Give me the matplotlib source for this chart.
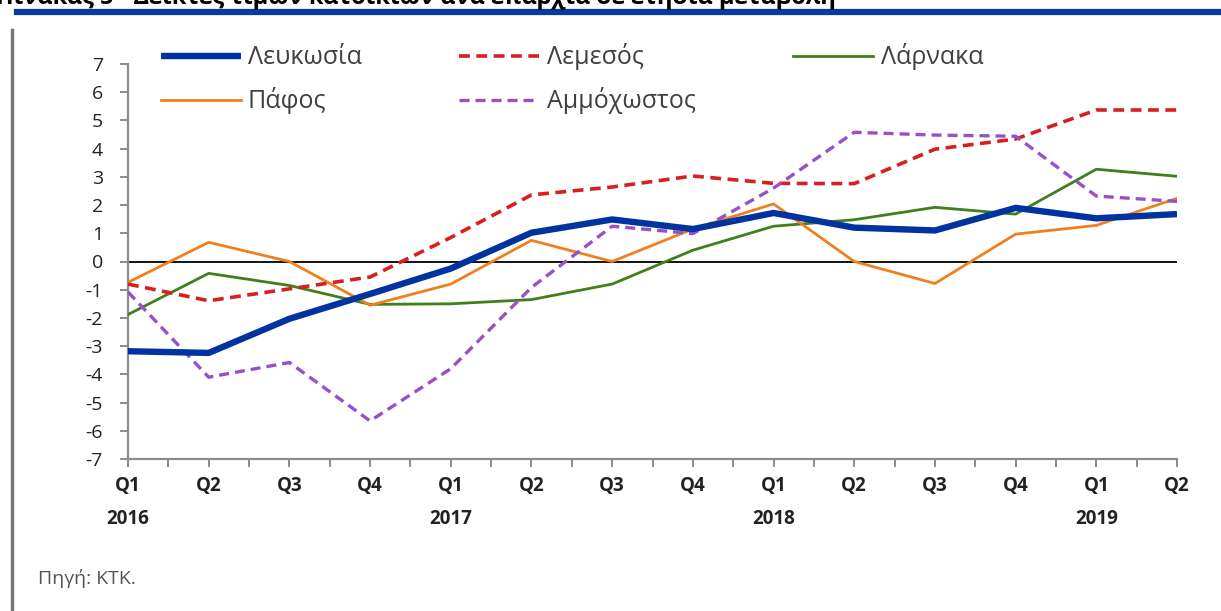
import matplotlib
matplotlib.use("Agg")
import matplotlib.pyplot as plt
from matplotlib.lines import Line2D
import numpy as np

plt.rcParams['font.family'] = ['Open Sans', 'DejaVu Sans']

quarters = ["Q1", "Q2", "Q3", "Q4", "Q1", "Q2", "Q3", "Q4", "Q1", "Q2", "Q3", "Q4", "Q1", "Q2"]
years = ["2016", "", "", "", "2017", "", "", "", "2018", "", "", "", "2019", ""]

lefkosia = [-3.18, -3.24, -2.03, -1.15, -0.25, 1.02, 1.49, 1.15, 1.72, 1.2, 1.1, 1.9, 1.53, 1.68]
lemesos = [-0.8, -1.39, -0.97, -0.55, 0.85, 2.36, 2.64, 3.03, 2.77, 2.76, 3.98, 4.34, 5.37, 5.37]
larnaka = [-1.88, -0.42, -0.85, -1.52, -1.5, -1.35, -0.8, 0.4, 1.25, 1.48, 1.92, 1.68, 3.27, 3.02]
pafos = [-0.74, 0.68, 0.0, -1.55, -0.8, 0.75, 0.0, 1.15, 2.04, 0.0, -0.78, 0.97, 1.28, 2.24]
ammochostos = [-1.08, -4.1, -3.58, -5.65, -3.8, -0.92, 1.25, 0.99, 2.6, 4.58, 4.48, 4.44, 2.32, 2.13]

series_names = ["Λευκωσία", "Λεμεσός", "Λάρνακα", "Πάφος", "Αμμόχωστος"]

fig = plt.figure(figsize=(12.21, 6.11), dpi=100)
ax = fig.add_axes([128 / 1221, 1 - 459 / 611, (1177 - 128) / 1221, (459 - 64) / 611])

x = np.arange(len(quarters))
ax.axhline(0, color="black", lw=1.3, zorder=1)

l1, = ax.plot(x, lefkosia, color="#0033a0", lw=4.6, solid_capstyle="butt", zorder=5)
l2, = ax.plot(x, lemesos, color="#d91e1e", lw=2.6, dashes=(3, 1.8), zorder=4)
l3, = ax.plot(x, larnaka, color="#3f7f1c", lw=2.0, zorder=3)
l4, = ax.plot(x, pafos, color="#f0801e", lw=2.0, zorder=3)
l5, = ax.plot(x, ammochostos, color="#9552c8", lw=2.4, dashes=(3, 1.8), zorder=4)

ax.set_xlim(0, len(quarters) - 1)
ax.set_ylim(-7, 7)
ax.set_yticks(range(-7, 8))
ax.set_yticklabels([str(v) for v in range(-7, 8)], fontsize=14, color="#222222")
ax.set_xticks(x)
ax.set_xticklabels([f"{q}\n{y}" for q, y in zip(quarters, years)], fontsize=13.5,
                   fontweight="bold", color="#222222", linespacing=1.9)
ax.set_xticks(np.arange(0.5, len(quarters) - 1, 1.0), minor=True)

for s in ["top", "right"]:
    ax.spines[s].set_visible(False)
for s in ["left", "bottom"]:
    ax.spines[s].set_color("#8c8c8c")
    ax.spines[s].set_linewidth(1.6)
ax.tick_params(axis="y", length=6, width=1.4, color="#8c8c8c", pad=12)
ax.tick_params(axis="x", which="both", length=6, width=1.4, color="#8c8c8c", pad=6)

# legend filled row by row like the reference (matplotlib fills columns first)
handles = [l1, l4, l2, l5, l3]
labels = [series_names[0], series_names[3], series_names[1], series_names[4], series_names[2]]
leg = fig.legend(handles, labels, ncol=3, loc="upper left",
                 bbox_to_anchor=(138 / 1221, 1 - 21 / 611), frameon=False,
                 fontsize=18, handlelength=3.2, handletextpad=0.3,
                 columnspacing=3.9, labelspacing=0.68, labelcolor="#404040")

# decorations
fig.add_artist(Line2D([17 / 1221, 1.0], [1 - 12 / 611, 1 - 12 / 611], color="#0a3a9c", lw=4.5))
fig.add_artist(Line2D([12 / 1221, 12 / 1221], [0, 1 - 30 / 611], color="#777777", lw=2.5))
fig.text(-4 / 1221, 1 + 2 / 611, "Πίνακας 5 - Δείκτες τιμών κατοικιών ανά επαρχία σε ετήσια μεταβολή",
         fontsize=17, fontweight="bold", color="black", va="center", ha="left")
fig.text(38 / 1221, 1 - 578 / 611, "Πηγή: ΚΤΚ.", fontsize=14, color="#555555", va="center", ha="left")

fig.savefig("out.png", dpi=100)
